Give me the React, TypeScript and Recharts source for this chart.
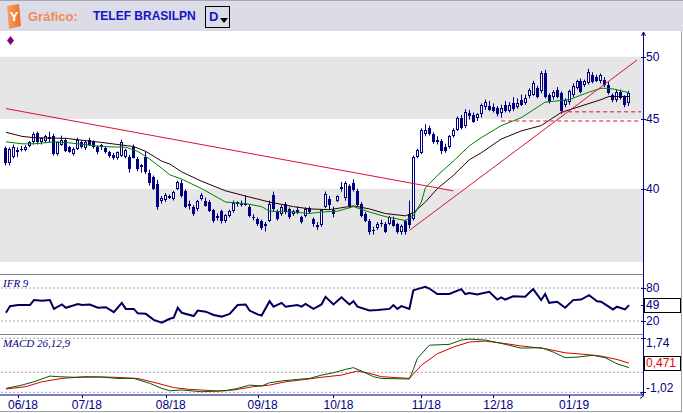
import React from "react";
import { ComposedChart, Bar, Line, XAxis, YAxis, ReferenceArea, ReferenceLine } from "recharts";

const NAVY = "#000080";
const FONT = "Arial, 'Liberation Sans', sans-serif";

// month ticks (candle index) and their labels
const monthAt = [3, 19, 40, 63, 82, 104, 122, 141];
const monthLabel = ["06/18", "07/18", "08/18", "09/18", "10/18", "11/18", "12/18", "01/19"];

// daily candles
const opens = [
  42.82, 41.75, 42.2, 42.6, 42.8, 42.7, 43.0, 43.25, 43.95, 43.25, 43.35, 43.6, 43.75, 42.4, 43.1, 43.45, 42.9, 42.4, 42.75, 43.25,
  42.85, 43.45, 43.3, 42.95, 42.9, 42.85, 42.55, 42.35, 42.15, 42.25, 42.2, 42.2, 42.9, 42.05, 41.5, 42.2, 41.1, 40.8, 40.3, 39.2,
  39.25, 39.45, 39.3, 39.95, 40.4, 39.85, 38.9, 38.8, 38.65, 39.3, 39.2, 39.1, 38.55, 38.1, 38.5, 37.9, 38.2, 38.5, 38.95, 39.0,
  39.0, 38.8, 38.1, 38.0, 37.85, 37.7, 37.9, 39.6, 38.5, 38.35, 38.95, 38.65, 38.3, 38.55, 38.1, 38.2, 38.7, 38.0, 37.6, 37.6,
  38.8, 39.3, 38.6, 39.2, 39.95, 39.35, 40.15, 40.35, 39.85, 39.0, 38.35, 37.9, 37.3, 37.4, 37.75, 37.65, 37.7, 37.95, 37.65, 37.15,
  37.85, 38.3, 38.0, 42.2, 42.5, 43.85, 44.3, 43.9, 43.45, 43.35, 42.95, 42.95, 43.7, 44.2, 45.1, 44.45, 45.45, 45.3, 45.1, 45.35,
  45.9, 46.0, 45.95, 45.85, 45.45, 46.05, 45.6, 46.25, 45.9, 46.5, 46.2, 46.75, 46.9, 47.4, 47.2, 48.65, 46.85, 46.7, 47.25, 47.0,
  46.1, 46.3, 46.85, 47.4, 47.95, 47.7, 47.85, 48.5, 48.3, 47.95, 48.05, 47.65, 46.85, 46.45, 47.1, 46.7, 46.2,
];
const highs = [
  42.95, 42.9, 43.1, 42.9, 43.0, 43.05, 43.35, 44.0, 44.05, 43.6, 43.8, 44.05, 43.9, 43.3, 43.75, 43.6, 43.0, 42.9, 43.6, 43.4,
  43.4, 43.6, 43.4, 43.05, 43.15, 42.95, 42.65, 42.5, 42.6, 43.45, 42.8, 42.35, 43.1, 42.2, 41.7, 42.6, 41.3, 40.9, 40.6, 39.5,
  39.7, 39.6, 39.85, 40.55, 40.6, 39.95, 39.2, 38.9, 39.25, 39.7, 39.4, 39.25, 38.65, 38.35, 38.6, 38.3, 38.6, 39.2, 39.15, 39.2,
  39.55, 38.95, 38.3, 38.1, 37.95, 37.8, 39.2, 39.8, 38.6, 38.9, 39.1, 38.75, 38.6, 38.8, 38.2, 38.75, 38.8, 38.1, 37.8, 38.6,
  39.8, 39.5, 38.8, 39.55, 40.45, 40.5, 40.3, 40.65, 40.0, 39.1, 38.45, 38.0, 37.5, 37.8, 37.95, 37.8, 38.2, 38.15, 37.75, 37.65,
  37.95, 39.2, 42.3, 42.8, 44.3, 44.6, 44.5, 44.0, 43.7, 43.5, 43.15, 43.8, 44.3, 45.2, 45.3, 45.75, 45.7, 45.5, 45.45, 46.2,
  46.5, 46.4, 46.2, 46.0, 46.1, 46.4, 46.3, 46.7, 46.6, 46.9, 46.9, 47.4, 48.0, 47.6, 48.8, 48.9, 47.0, 47.25, 47.5, 47.15,
  46.6, 47.3, 47.8, 48.1, 48.2, 48.1, 49.0, 48.7, 48.5, 48.6, 48.3, 47.9, 47.0, 47.3, 47.3, 46.85, 47.2,
];
const lows = [
  41.6, 41.6, 42.1, 42.2, 42.6, 42.6, 42.9, 43.1, 43.1, 43.1, 43.2, 43.25, 42.3, 42.3, 43.0, 42.55, 42.5, 42.3, 42.7, 42.8,
  42.7, 43.0, 42.8, 42.4, 42.7, 42.45, 42.15, 42.0, 42.0, 42.2, 42.1, 41.1, 42.1, 41.2, 41.1, 41.0, 40.2, 39.9, 38.6, 39.0,
  39.1, 39.3, 39.2, 39.9, 39.4, 38.7, 38.6, 38.2, 38.5, 39.2, 38.8, 38.45, 37.75, 37.9, 37.7, 37.75, 38.1, 38.4, 38.8, 38.8,
  38.85, 38.1, 37.9, 37.55, 37.3, 37.2, 37.8, 38.5, 37.9, 38.2, 38.3, 38.0, 38.2, 38.3, 37.7, 38.1, 38.35, 37.5, 37.3, 37.5,
  38.7, 38.6, 38.1, 39.1, 39.8, 39.2, 38.7, 39.8, 38.8, 38.1, 37.8, 37.0, 37.0, 37.3, 37.5, 37.1, 37.6, 37.5, 37.05, 37.0,
  37.0, 37.4, 37.9, 42.1, 42.4, 43.7, 43.75, 43.15, 43.1, 42.4, 42.5, 42.8, 43.6, 44.1, 44.2, 44.3, 44.95, 44.7, 44.85, 45.1,
  45.7, 45.6, 45.5, 45.2, 45.1, 45.5, 45.5, 45.6, 45.8, 46.0, 46.1, 46.6, 46.8, 46.6, 47.0, 46.6, 46.2, 46.5, 46.6, 45.4,
  45.9, 46.1, 46.7, 47.3, 47.0, 47.5, 47.7, 47.8, 47.9, 47.8, 47.5, 46.9, 46.3, 46.3, 46.5, 45.9, 46.0,
];
const closes = [
  41.8, 42.75, 42.95, 42.7, 42.75, 42.95, 43.25, 43.9, 43.25, 43.55, 43.7, 43.65, 42.4, 43.25, 43.45, 42.6, 42.55, 42.75, 43.45, 42.9,
  43.25, 43.1, 42.9, 42.55, 43.05, 42.55, 42.25, 42.15, 42.55, 43.3, 42.7, 41.35, 42.15, 41.35, 41.6, 41.15, 40.35, 40.0, 38.8, 39.4,
  39.6, 39.5, 39.8, 40.45, 39.5, 38.8, 39.0, 38.35, 39.2, 39.6, 38.85, 38.5, 37.9, 38.2, 37.85, 38.25, 38.5, 39.05, 39.1, 38.95,
  38.95, 38.2, 38.05, 37.7, 37.4, 37.55, 39.0, 38.65, 38.0, 38.8, 38.45, 38.1, 38.5, 38.4, 37.8, 38.65, 38.45, 37.7, 37.5, 38.55,
  39.65, 38.9, 38.3, 39.5, 40.1, 40.35, 38.85, 39.9, 38.9, 38.2, 37.9, 37.2, 37.25, 37.65, 37.7, 37.2, 38.1, 37.55, 37.15, 37.55,
  37.15, 37.6, 42.2, 42.7, 44.15, 44.2, 43.85, 43.25, 43.25, 42.6, 42.65, 43.7, 44.2, 45.1, 44.35, 45.55, 45.2, 44.8, 45.35, 46.1,
  46.3, 45.7, 45.6, 45.35, 45.85, 45.6, 46.05, 45.75, 46.25, 46.1, 46.6, 47.25, 47.85, 46.7, 48.65, 46.7, 46.35, 47.1, 46.7, 45.65,
  46.45, 47.15, 47.55, 47.95, 47.1, 47.95, 48.7, 47.9, 47.95, 48.45, 47.7, 47.0, 46.45, 47.1, 46.65, 46.1, 47.0,
];

// moving averages, read at these candle indexes
const slowAt = [0, 4, 7, 15, 24, 32, 35, 39, 41, 44, 49, 55, 60, 66, 72, 76, 81, 87, 91, 95, 100, 102, 105, 108, 112, 116, 119, 124, 129, 134, 139, 144, 149, 151, 156];
const slowVal = [44.0, 43.7, 43.6, 43.55, 43.25, 42.95, 42.6, 41.9, 41.7, 41.15, 40.5, 39.85, 39.5, 39.1, 38.8, 38.65, 38.6, 38.85, 38.65, 38.35, 38.2, 38.4, 39.1, 40.0, 40.9, 42.0, 42.5, 43.5, 44.1, 44.5, 45.5, 46.0, 46.5, 46.75, 46.75];
const fastAt = [0, 4, 7, 12, 15, 24, 30, 33, 36, 39, 41, 44, 49, 55, 60, 64, 66, 72, 76, 79, 83, 87, 91, 95, 100, 102, 104, 105, 108, 112, 116, 119, 124, 129, 134, 135, 141, 146, 149, 150, 152, 156];
const fastVal = [43.3, 43.15, 43.15, 43.3, 43.25, 42.95, 42.9, 42.6, 42.05, 41.4, 40.95, 40.65, 40.0, 39.1, 39.0, 38.8, 38.5, 38.45, 38.35, 38.45, 38.5, 38.8, 38.45, 38.15, 37.9, 38.2, 39.1, 40.05, 40.9, 41.9, 43.0, 43.6, 44.5, 45.1, 46.1, 46.3, 46.5, 47.1, 47.4, 47.4, 47.35, 47.05];

// drawn lines: two trend lines and two support levels
const trendDownAt = [0, 112];
const trendDownVal = [45.8, 39.85];
const trendUpAt = [101, 158];
const trendUpVal = [37.27, 49.72];
const supportHigh = 45.55;
const supportHighAt = [139, 159];
const supportLow = 44.85;
const supportLowAt = [124, 159];

// IFR 9
const ifrAt = [0, 1, 3, 6, 7, 9, 11, 12, 14, 15, 18, 19, 21, 23, 25, 27, 29, 30, 32, 33, 35, 37, 39, 41, 42, 43, 44, 47, 48, 50, 52, 54, 56, 58, 60, 61, 63, 64, 66, 67, 69, 70, 73, 74, 75, 77, 79, 80, 82, 84, 86, 87, 88, 91, 93, 96, 97, 98, 99, 101, 102, 103, 105, 106, 108, 111, 114, 115, 116, 118, 121, 123, 124, 125, 127, 130, 132, 134, 135, 136, 138, 140, 142, 144, 146, 148, 149, 152, 153, 155, 156];
const ifrVal = [35, 47, 49, 49, 58, 57, 58, 42, 50, 44, 51, 49, 50, 44, 45, 36, 53, 42, 42, 34, 33, 22, 17, 24, 26, 44, 35, 29, 39, 37, 31, 28, 33, 49, 50, 39, 32, 30, 56, 46, 53, 46, 49, 46, 51, 42, 50, 64, 50, 63, 50, 56, 46, 39, 40, 42, 49, 42, 47, 42, 76, 78, 82, 79, 69, 69, 78, 69, 71, 68, 73, 59, 63, 59, 65, 64, 78, 58, 69, 53, 55, 44, 58, 59, 67, 56, 55, 41, 46, 41, 49];

// MACD 26,12,9
const macdAt = [0, 4, 7, 11, 13, 17, 24, 28, 32, 36, 39, 41, 44, 49, 55, 58, 61, 64, 66, 69, 73, 76, 79, 82, 85, 87, 89, 92, 94, 101, 102, 103, 106, 111, 114, 116, 120, 124, 129, 134, 137, 140, 143, 147, 150, 153, 156];
const macdVal = [-0.82, -0.65, -0.48, -0.19, -0.22, -0.25, -0.24, -0.31, -0.31, -0.56, -0.82, -0.94, -0.9, -0.99, -0.94, -0.82, -0.65, -0.7, -0.53, -0.44, -0.36, -0.31, -0.14, -0.02, 0.15, 0.24, 0.07, -0.22, -0.31, -0.34, 0.15, 0.71, 1.39, 1.43, 1.65, 1.7, 1.65, 1.48, 1.24, 1.26, 1.04, 0.75, 0.78, 0.87, 0.75, 0.44, 0.24];
const sigAt = [0, 5, 9, 14, 20, 27, 33, 38, 42, 46, 53, 57, 62, 66, 70, 75, 79, 84, 88, 91, 94, 101, 104, 108, 112, 116, 120, 124, 129, 135, 140, 146, 149, 153, 156];
const sigVal = [-0.85, -0.73, -0.48, -0.31, -0.22, -0.25, -0.31, -0.56, -0.78, -0.87, -0.95, -0.9, -0.73, -0.65, -0.48, -0.36, -0.25, -0.14, 0.07, -0.05, -0.22, -0.31, 0.36, 0.95, 1.29, 1.55, 1.6, 1.5, 1.35, 1.21, 1.0, 0.9, 0.83, 0.66, 0.471];

const PAD_END = 3;
const rows: any[] = [];
for (let j = -1; j < opens.length + PAD_END; j++) rows.push({ cat: "k" + j });
opens.forEach((o, k) => {
  Object.assign(rows[k + 1], { o, h: highs[k], l: lows[k], cl: closes[k] });
});
const put = (key: string, at: number[], val: number[]) =>
  at.forEach((k, n) => {
    if (rows[k + 1] && val[n] != null) rows[k + 1][key] = val[n];
  });
put("slow", slowAt, slowVal);
put("fast", fastAt, fastVal);
put("td", trendDownAt, trendDownVal);
put("tu", trendUpAt, trendUpVal);
put("s1", supportHighAt, supportHighAt.map(() => supportHigh));
put("s2", supportLowAt, supportLowAt.map(() => supportLow));
put("ifr", ifrAt, ifrVal);
put("macd", macdAt, macdVal);
put("sig", sigAt, sigVal);

const lastIfr = ifrVal[ifrVal.length - 1];
const lastSig = sigVal[sigVal.length - 1];

const candleRange = (d: any) => (d.h != null ? [d.l, d.h] : null);

const Candle = (props: any) => {
  const { x, y, width, height, payload } = props;
  if (!payload || payload.h == null || x == null) return null;
  const top = Math.min(y, y + height);
  const bot = Math.max(y, y + height);
  const lh = Math.log(payload.h);
  const ll = Math.log(payload.l);
  const span = lh - ll || 1;
  const py = (p: number) => top + ((lh - Math.log(p)) / span) * (bot - top);
  const cx = Math.floor(x + width / 2);
  const yo = py(payload.o);
  const yc = py(payload.cl);
  const bt = Math.round(Math.min(yo, yc));
  const bb = Math.max(Math.round(Math.max(yo, yc)), bt + 1);
  const wx = cx + 0.5;
  if (payload.cl < payload.o) {
    return (
      <g>
        <line x1={wx} x2={wx} y1={top} y2={bot} stroke={NAVY} />
        <rect x={cx - 1} y={bt} width={3} height={bb - bt} fill={NAVY} />
      </g>
    );
  }
  return (
    <g>
      <line x1={wx} x2={wx} y1={top} y2={bt} stroke={NAVY} />
      <line x1={wx} x2={wx} y1={bb} y2={bot} stroke={NAVY} />
      <rect x={cx - 0.5} y={bt + 0.5} width={2} height={Math.max(bb - bt - 1, 1)} fill="#fff" stroke={NAVY} />
    </g>
  );
};

const PriceTick = ({ x, y, payload }: any) => (
  <g>
    <line x1={x - 2} x2={x + 3} y1={Math.round(y) + 0.5} y2={Math.round(y) + 0.5} stroke={NAVY} />
    <text x={x + 3} y={y + 4} fontSize={12} fontFamily={FONT} fill={NAVY}>
      {payload.value}
    </text>
  </g>
);

const IfrTick = ({ x, y, payload }: any) => {
  const v = payload.value;
  const yy = Math.round(y) + 0.5;
  return (
    <g>
      <line x1={x - 2} x2={x + 3} y1={yy} y2={yy} stroke={NAVY} />
      {v === lastIfr && <rect x={x + 1.5} y={yy - 7} width={36} height={14} fill="#fff" stroke="#000" />}
      <text x={x + 3} y={y + 4} fontSize={12} fontFamily={FONT} fill={NAVY}>
        {v}
      </text>
    </g>
  );
};

const MacdTick = ({ x, y, payload }: any) => {
  const v = payload.value;
  const yy = Math.round(y) + 0.5;
  const txt = String(v).replace(".", ",");
  if (v === lastSig) {
    return (
      <g>
        <rect x={x + 1.5} y={yy - 7} width={36} height={14} fill="#fff" stroke="#000" />
        <text x={x + 3} y={y + 4} fontSize={12} fontFamily={FONT} fill="#e00000">
          {txt}
        </text>
      </g>
    );
  }
  const dy = v > 0 ? 9 : 0;
  return (
    <g>
      <line x1={x - 2} x2={x + 3} y1={yy} y2={yy} stroke={NAVY} />
      <text x={x + 3} y={y + dy} fontSize={12} fontFamily={FONT} fill={NAVY}>
        {txt}
      </text>
    </g>
  );
};

const MonthTick = ({ x, y, payload }: any) => {
  const k = Number(String(payload.value).slice(1));
  const label = monthLabel[monthAt.indexOf(k)] ?? "";
  const xx = Math.round(x) + 0.5;
  return (
    <g>
      <line x1={xx} x2={xx} y1={y} y2={y + 3} stroke={NAVY} />
      <text x={x + 5} y={y + 14} textAnchor="middle" fontSize={12} fontFamily={FONT} fill={NAVY}>
        {label}
      </text>
    </g>
  );
};

const lineProps = { dot: false, activeDot: false, connectNulls: true, isAnimationActive: false, strokeWidth: 1 } as const;
const noMargin = { top: 0, right: 0, bottom: 0, left: 0 };

export default function App() {
  return (
    <div style={{ position: "absolute", left: 0, top: 0, width: 683, height: 413, background: "#fff", overflow: "hidden", fontFamily: FONT }}>
      {/* header */}
      <div style={{ position: "absolute", left: 0, top: 0, width: 683, height: 31, background: "#dbdce7", borderTop: "1px solid #a8a8b0", boxSizing: "border-box" }}>
        <svg width={20} height={26} style={{ position: "absolute", left: 4, top: 3 }}>
          <defs>
            <linearGradient id="lg" x1="0" x2="1">
              <stop offset="0" stopColor="#f7a060" />
              <stop offset="1" stopColor="#e8702a" />
            </linearGradient>
          </defs>
          <path d="M3 2 L15 0 L17 22 L5 25 Z" fill="url(#lg)" />
          <text x={10} y={17} textAnchor="middle" fontSize={13} fontWeight="bold" fill="#fff" fontFamily={FONT}>Y</text>
        </svg>
        <span style={{ position: "absolute", left: 28, top: 8, fontSize: 13, fontWeight: "bold", color: "#f08a52" }}>Gráfico:</span>
        <span style={{ position: "absolute", left: 93, top: 8, fontSize: 12, fontWeight: "bold", color: "#1414c8" }}>TELEF BRASILPN</span>
        <div style={{ position: "absolute", left: 205, top: 5, width: 25, height: 22, border: "1px solid #000", boxSizing: "border-box" }}>
          <span style={{ position: "absolute", left: 3, top: 2, fontSize: 13, fontWeight: "bold", color: "#1414c8" }}>D</span>
          <svg width={8} height={5} style={{ position: "absolute", left: 14, top: 11 }}>
            <path d="M0 0 L8 0 L4 5 Z" fill="#000" />
          </svg>
        </div>
      </div>

      {/* price panel */}
      <div style={{ position: "absolute", left: 0, top: 33 }}>
        <ComposedChart width={683} height={229} data={rows} margin={noMargin}>
          <XAxis dataKey="cat" scale="band" hide />
          <YAxis
            orientation="right"
            width={40}
            type="number"
            scale="log"
            domain={[35.33, 52.05]}
            allowDataOverflow
            ticks={[40, 45, 50]}
            interval={0}
            tick={<PriceTick />}
            tickLine={false}
            axisLine={false}
            tickSize={0}
            tickMargin={0}
          />
          <ReferenceArea y1={45} y2={50} fill="#e6e6e6" fillOpacity={1} stroke="none" ifOverflow="hidden" />
          <ReferenceArea y1={35.33} y2={40} fill="#e6e6e6" fillOpacity={1} stroke="none" ifOverflow="hidden" />
          <Line dataKey="slow" stroke="#2a0000" {...lineProps} />
          <Line dataKey="fast" stroke="#008000" {...lineProps} />
          <Bar dataKey={candleRange} shape={Candle} isAnimationActive={false} />
          <Line dataKey="td" stroke="#dd1030" {...lineProps} />
          <Line dataKey="tu" stroke="#dd1030" {...lineProps} />
          <Line dataKey="s1" stroke="#dd1030" strokeDasharray="4 3" {...lineProps} />
          <Line dataKey="s2" stroke="#dd1030" strokeDasharray="4 3" {...lineProps} />
        </ComposedChart>
      </div>

      {/* IFR panel */}
      <div style={{ position: "absolute", left: 0, top: 274 }}>
        <ComposedChart width={683} height={60} data={rows} margin={noMargin}>
          <XAxis dataKey="cat" scale="band" hide />
          <YAxis
            orientation="right"
            width={40}
            type="number"
            domain={[-3.64, 105.45]}
            allowDataOverflow
            ticks={[20, lastIfr, 80]}
            interval={0}
            tick={<IfrTick />}
            tickLine={false}
            axisLine={false}
            tickSize={0}
            tickMargin={0}
          />
          <ReferenceLine y={80} stroke="#a8a8a8" strokeDasharray="2 2" />
          <ReferenceLine y={20} stroke="#a8a8a8" strokeDasharray="2 2" />
          <Line dataKey="ifr" stroke="#00005c" {...lineProps} strokeWidth={2} />
        </ComposedChart>
      </div>

      {/* MACD panel */}
      <div style={{ position: "absolute", left: 0, top: 336 }}>
        <ComposedChart width={683} height={77} data={rows} margin={noMargin}>
          <XAxis
            dataKey="cat"
            scale="band"
            height={18}
            ticks={monthAt.map((k) => "k" + k)}
            interval={0}
            tick={<MonthTick />}
            tickLine={false}
            axisLine={{ stroke: NAVY }}
            tickSize={0}
            tickMargin={0}
          />
          <YAxis
            orientation="right"
            width={40}
            type="number"
            domain={[-1.157, 1.858]}
            allowDataOverflow
            ticks={[-1.02, lastSig, 1.74]}
            interval={0}
            tick={<MacdTick />}
            tickLine={false}
            axisLine={false}
            tickSize={0}
            tickMargin={0}
          />
          <ReferenceLine y={1.74} stroke="#a8a8a8" strokeDasharray="2 2" />
          <ReferenceLine y={0} stroke="#a8a8a8" strokeDasharray="2 2" />
          <ReferenceLine y={-1.02} stroke="#a8a8a8" strokeDasharray="2 2" />
          <Line dataKey="sig" stroke="#d00000" {...lineProps} />
          <Line dataKey="macd" stroke="#005a00" {...lineProps} />
        </ComposedChart>
      </div>

      {/* frame, separators and panel titles */}
      <svg width={683} height={413} style={{ position: "absolute", left: 0, top: 0, pointerEvents: "none" }}>
        <line x1={643.5} x2={643.5} y1={32} y2={395} stroke={NAVY} />
        <path d="M641.5 36 L643.5 32 L645.5 36" fill="none" stroke={NAVY} />
        <path d="M640 392.5 L644 395.5 L640 398.5" fill="none" stroke={NAVY} />
        <line x1={0} x2={643} y1={274.5} y2={274.5} stroke="#808080" />
        <line x1={0} x2={643} y1={334.5} y2={334.5} stroke="#808080" />
        <line x1={681.5} x2={681.5} y1={31} y2={412} stroke="#a0a0a0" />
        <line x1={0} x2={682} y1={411.5} y2={411.5} stroke="#a0a0a0" />
        <path d="M10.5 36 L14 40.5 L10.5 45 L7 40.5 Z" fill="#800080" />
        <text x={3} y={287} fontSize={11} fontStyle="italic" fontFamily="'Liberation Serif', 'Times New Roman', serif" fill={NAVY}>IFR 9</text>
        <text x={3} y={347} fontSize={11} fontStyle="italic" fontFamily="'Liberation Serif', 'Times New Roman', serif" fill={NAVY}>MACD 26,12,9</text>
      </svg>
    </div>
  );
}
